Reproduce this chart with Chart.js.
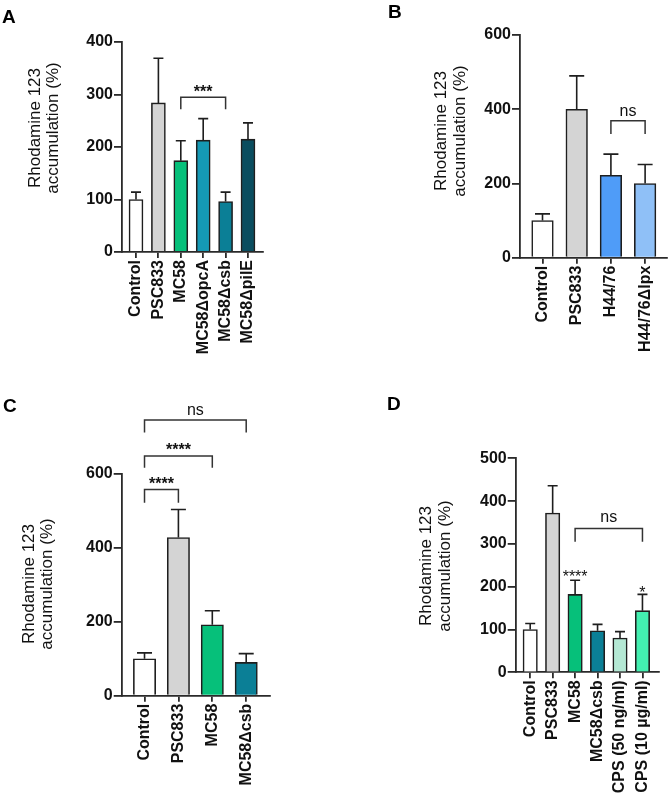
<!DOCTYPE html>
<html><head><meta charset="utf-8">
<script src="https://cdn.jsdelivr.net/npm/chart.js@4.4.1/dist/chart.umd.min.js"></script>
<style>
html,body{margin:0;padding:0;background:#fff;}
#wrap{position:relative;width:669px;height:797px;overflow:hidden;background:#fff;}
canvas{position:absolute;left:0;top:0;}
.lbl{position:absolute;font:bold 19px "Liberation Sans",Arial,sans-serif;line-height:19px;color:#000;}
</style></head><body>
<div id="wrap">
<canvas id="cA" width="669" height="797"></canvas>
<canvas id="cB" width="669" height="797"></canvas>
<canvas id="cC" width="669" height="797"></canvas>
<canvas id="cD" width="669" height="797"></canvas>
<div class="lbl" style="left:2px;top:7px">A</div>
<div class="lbl" style="left:388px;top:2px">B</div>
<div class="lbl" style="left:3px;top:396px">C</div>
<div class="lbl" style="left:387px;top:394px">D</div>
</div>
<script>
// ---------- data ----------
const yTitle = ['Rhodamine 123', 'accumulation (%)'];

const catsA = ['Control','PSC833','MC58','MC58ΔopcA','MC58Δcsb','MC58ΔpilE'];
const meanA = [100, 284, 174, 213, 96, 215];
const sdA   = [14, 85, 38, 41, 18, 31];
const yTicksA = [0, 100, 200, 300, 400];

const catsB = ['Control','PSC833','H44/76','H44/76Δlpx'];
const meanB = [100, 400, 222, 200];
const sdB   = [18, 90, 57, 51];
const yTicksB = [0, 200, 400, 600];

const catsC = ['Control','PSC833','MC58','MC58Δcsb'];
const meanC = [100, 428, 192, 90];
const sdC   = [16, 76, 38, 24];
const yTicksC = [0, 200, 400, 600];

const catsD = ['Control','PSC833','MC58','MC58Δcsb','CPS (50 ng/ml)','CPS (10 µg/ml)'];
const meanD = [100, 372, 182, 97, 80, 144];
const sdD   = [14, 64, 33, 15, 15, 38];
const yTicksD = [0, 100, 200, 300, 400, 500];

// significance comparisons (bracket heights in axis units)
const sigA = [{from:2, to:4, top:295, leg:272, text:'***'}];
const sigB = [{from:2, to:3, top:369, leg:333, text:'ns'}];
const sigC = [{from:0, to:1, top:558, leg:522, text:'****'},
              {from:0, to:2, top:649, leg:617, text:'****'},
              {from:0, to:3, top:746, leg:712, text:'ns'}];
const sigD = [{from:2, to:5, top:336, leg:305, text:'ns'}];
const starsD = [{at:2, text:'****'}, {at:5, text:'*'}];

// ---------- styles ----------
const C_WHITE='#ffffff', C_GRAY='#d4d4d4', C_GREEN='#06c07a', C_OPCA='#1599b5',
      C_CSB='#0b7f96', C_PILE='#0a4d5f', C_BLUE='#4f9cf8', C_LBLUE='#8fc0f7',
      C_PALE='#b4e8d4', C_MINT='#43efb0';
const colsA = [C_WHITE, C_GRAY, C_GREEN, C_OPCA, C_CSB, C_PILE];
const colsB = [C_WHITE, C_GRAY, C_BLUE, C_LBLUE];
const colsC = [C_WHITE, C_GRAY, C_GREEN, C_CSB];
const colsD = [C_WHITE, C_GRAY, C_GREEN, C_CSB, C_PALE, C_MINT];

const FONT = '"Liberation Sans", Arial, sans-serif';
Chart.defaults.font.family = FONT;
Chart.defaults.color = '#111';

const W = 669, H = 797, YW = 80;
const INK = '#1e1e1e', AXIS = '#2a2a2a';

const layoutA = {axisX:122, topY:42, botY:252, rightX:263, xmin:-0.625, xmax:5.67, barW:14, capW:10,
  titleX:[35,53], titleY:128, gap:9, xh:140};
const layoutB = {axisX:520, topY:35, botY:257.7, rightX:667, xmin:-0.658, xmax:3.64, barW:21.6, capW:15,
  titleX:[441.5,460], titleY:131, gap:9, xh:135};
const layoutC = {axisX:121.7, topY:474, botY:695.7, rightX:270, xmin:-0.673, xmax:3.702, barW:22.3, capW:15,
  titleX:[29,47], titleY:584, gap:9.5, xh:101.3};
const layoutD = {axisX:515.7, topY:458.3, botY:672.3, rightX:659, xmin:-0.646, xmax:5.737, barW:14.4, capW:10,
  titleX:[426.5,445], titleY:566, gap:11, xh:124.7};

function textCenter(ctx, txt, x, cy) {
  const m = ctx.measureText(txt);
  const off = (m.actualBoundingBoxAscent - m.actualBoundingBoxDescent) / 2;
  ctx.fillText(txt, x, cy + off);
}

const annotPlugin = {
  id: 'annot',
  afterDatasetsDraw(chart, args, o) {
    const ctx = chart.ctx, xs = chart.scales.x, ys = chart.scales.y, L = o.layout;
    ctx.save();
    ctx.strokeStyle = INK; ctx.lineWidth = 1.6; ctx.lineCap = 'butt';
    // error bars (upper)
    o.mean.forEach((v, i) => {
      const x = xs.getPixelForValue(i);
      const y0 = ys.getPixelForValue(v), y1 = ys.getPixelForValue(v + o.sd[i]);
      ctx.beginPath();
      ctx.moveTo(x, y0); ctx.lineTo(x, y1);
      ctx.moveTo(x - L.capW/2, y1); ctx.lineTo(x + L.capW/2, y1);
      ctx.stroke();
    });
    // brackets
    ctx.fillStyle = '#111'; ctx.textAlign = 'center'; ctx.textBaseline = 'alphabetic';
    (o.sig || []).forEach(b => {
      const x1 = xs.getPixelForValue(b.from), x2 = xs.getPixelForValue(b.to);
      const yt = ys.getPixelForValue(b.top), yl = ys.getPixelForValue(b.leg);
      ctx.strokeStyle = '#333'; ctx.lineWidth = 1.5;
      ctx.beginPath(); ctx.moveTo(x1, yl); ctx.lineTo(x1, yt); ctx.lineTo(x2, yt); ctx.lineTo(x2, yl); ctx.stroke();
      ctx.font = (b.text === 'ns' ? '16px ' : 'bold 16px ') + FONT;
      textCenter(ctx, b.text, (x1 + x2) / 2, yt - L.gap);
    });
    (o.stars || []).forEach(s => {
      const x = xs.getPixelForValue(s.at);
      const y = ys.getPixelForValue(o.mean[s.at] + o.sd[s.at]);
      ctx.font = '16px ' + FONT;
      textCenter(ctx, s.text, x, y - (s.text.length > 1 ? 7 : 5.5));
    });
    // y-axis title
    ctx.font = '17px ' + FONT; ctx.textBaseline = 'middle'; ctx.fillStyle = '#111';
    yTitle.forEach((t, k) => {
      ctx.save();
      ctx.translate(L.titleX[k], L.titleY);
      ctx.rotate(-Math.PI / 2);
      ctx.fillText(t, 0, 0);
      ctx.restore();
    });
    ctx.restore();
  }
};

function makeChart(id, cats, mean, sd, cols, yTicks, L, sig, stars) {
  const data = mean.map((v, i) => ({x: i, y: v}));
  return new Chart(document.getElementById(id), {
    type: 'bar',
    data: { datasets: [{
      data, backgroundColor: cols, borderColor: INK, borderWidth: 1.6,
      barThickness: L.barW, borderSkipped: 'start'
    }]},
    options: {
      responsive: false, animation: false, devicePixelRatio: 1,
      events: [],
      layout: { padding: { left: L.axisX - YW, top: L.topY, right: W - L.rightX, bottom: Math.max(0, H - L.botY - L.xh) } },
      plugins: { legend: {display:false}, tooltip: {enabled:false},
        annot: { mean, sd, layout: L, sig, stars } },
      scales: {
        x: {
          type: 'linear', min: L.xmin, max: L.xmax, offset: false,
          grid: { display: true, drawOnChartArea: false, drawTicks: true, tickLength: 6,
                  tickColor: AXIS, lineWidth: 1.8, offset: false },
          border: { display: true, color: AXIS, width: 1.8 },
          afterBuildTicks: s => { s.ticks = cats.map((c, i) => ({value: i})); },
          afterFit: s => { s.height = L.xh; s.paddingLeft = 0; s.paddingRight = 0; s.paddingTop = 0; s.paddingBottom = 0; },
          ticks: { autoSkip: false, minRotation: 90, maxRotation: 90, padding: 2, color: '#111',
                   font: { size: 16, weight: 'bold' },
                   callback: v => cats[v] }
        },
        y: {
          type: 'linear', min: yTicks[0], max: yTicks[yTicks.length - 1],
          grid: { display: true, drawOnChartArea: false, drawTicks: true, tickLength: 8,
                  tickColor: AXIS, lineWidth: 1.8 },
          border: { display: true, color: AXIS, width: 1.8 },
          afterBuildTicks: s => { s.ticks = yTicks.map(v => ({value: v})); },
          afterFit: s => { s.width = YW; s.paddingLeft = 0; s.paddingRight = 0; s.paddingTop = 0; s.paddingBottom = 0; },
          ticks: { padding: 1, color: '#111', font: { size: 16, weight: 'bold' } }
        }
      }
    },
    plugins: [annotPlugin]
  });
}

makeChart('cA', catsA, meanA, sdA, colsA, yTicksA, layoutA, sigA, null);
makeChart('cB', catsB, meanB, sdB, colsB, yTicksB, layoutB, sigB, null);
makeChart('cC', catsC, meanC, sdC, colsC, yTicksC, layoutC, sigC, null);
makeChart('cD', catsD, meanD, sdD, colsD, yTicksD, layoutD, sigD, starsD);
</script>
</body></html>
